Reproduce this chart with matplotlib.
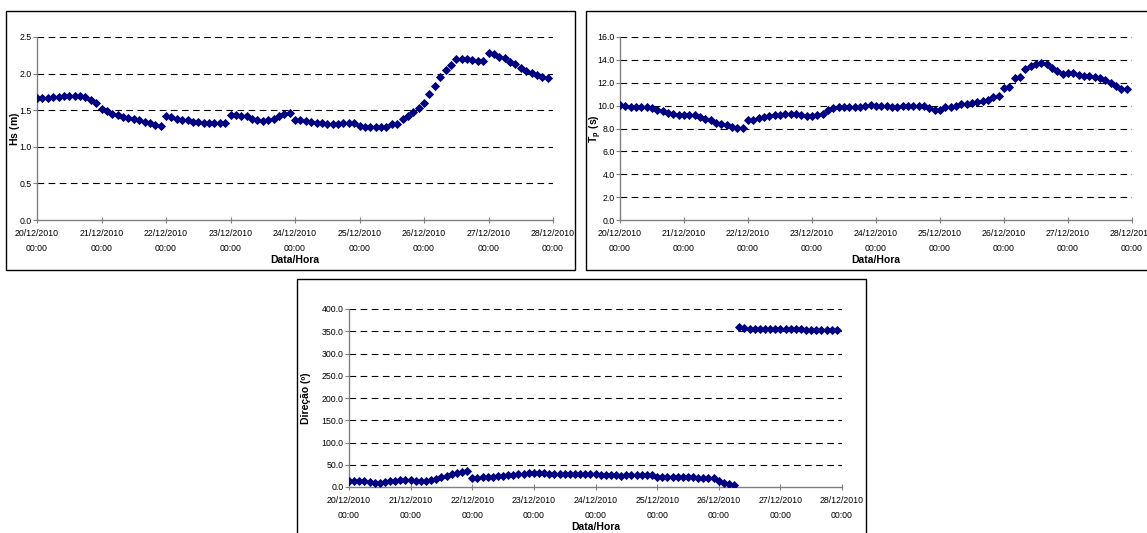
import numpy as np
import pandas as pd
import matplotlib
matplotlib.use("Agg")
import matplotlib.pyplot as plt
import matplotlib.patches as pat

plt.rcParams['font.family'] = ['Liberation Sans', 'DejaVu Sans']
plt.rcParams['mathtext.fontset'] = 'custom'
plt.rcParams['mathtext.bf'] = 'Liberation Sans:bold'
plt.rcParams['mathtext.rm'] = 'Liberation Sans'

# 2-hourly values, 20/12/2010 00:00 .. 27/12/2010 22:00
hs = [1.67, 1.67, 1.67, 1.68, 1.68, 1.69, 1.69, 1.70, 1.69, 1.68, 1.64, 1.60,
      1.51, 1.49, 1.45, 1.43, 1.41, 1.39, 1.38, 1.36, 1.34, 1.32, 1.30, 1.28,
      1.42, 1.41, 1.38, 1.37, 1.36, 1.34, 1.34, 1.33, 1.33, 1.33, 1.33, 1.32,
      1.43, 1.43, 1.42, 1.42, 1.38, 1.37, 1.35, 1.36, 1.38, 1.42, 1.45, 1.46,
      1.37, 1.36, 1.35, 1.34, 1.33, 1.32, 1.31, 1.31, 1.31, 1.32, 1.33, 1.32,
      1.28, 1.27, 1.27, 1.27, 1.27, 1.27, 1.31, 1.31, 1.38, 1.42, 1.47, 1.53,
      1.60, 1.72, 1.83, 1.95, 2.05, 2.12, 2.20, 2.20, 2.20, 2.18, 2.17, 2.17,
      2.28, 2.27, 2.22, 2.21, 2.16, 2.13, 2.07, 2.03, 2.01, 1.98, 1.95, 1.94]

tp = [10.05, 10.0, 9.9, 9.9, 9.85, 9.85, 9.8, 9.6, 9.5, 9.35, 9.25, 9.2,
      9.2, 9.2, 9.15, 9.0, 8.8, 8.75, 8.5, 8.4, 8.3, 8.15, 8.05, 8.05,
      8.7, 8.75, 8.9, 9.0, 9.1, 9.15, 9.2, 9.25, 9.25, 9.25, 9.2, 9.05,
      9.1, 9.2, 9.3, 9.6, 9.8, 9.85, 9.85, 9.85, 9.85, 9.85, 9.95, 10.05,
      10.0, 10.0, 9.95, 9.9, 9.9, 9.95, 10.0, 10.0, 10.0, 9.95, 9.8, 9.6,
      9.6, 9.85, 9.9, 9.95, 10.1, 10.1, 10.25, 10.3, 10.4, 10.5, 10.75, 10.8,
      11.5, 11.6, 12.4, 12.5, 13.2, 13.5, 13.6, 13.7, 13.6, 13.3, 13.0, 12.8,
      12.85, 12.85, 12.7, 12.6, 12.55, 12.5, 12.4, 12.2, 11.95, 11.7, 11.45, 11.45]

dirs = [14, 14, 14, 13, 11, 9, 10, 12, 13, 14, 15, 15,
        15, 14, 14, 14, 15, 18, 22, 25, 29, 32, 34, 35,
        21, 21, 22, 22, 23, 24, 25, 26, 28, 29, 30, 31,
        32, 32, 31, 30, 30, 30, 30, 30, 30, 30, 29, 29,
        29, 28, 27, 27, 26, 25, 27, 28, 28, 28, 27, 26,
        23, 22, 22, 22, 22, 22, 22, 22, 21, 21, 21, 20,
        13, 10, 6, 5, 360, 357, 356, 355, 355, 354, 355, 355,
        356, 355, 355, 354, 354, 353, 352, 352, 353, 353, 353, 353]

times = pd.date_range("2010-12-20 00:00", periods=len(hs), freq="2h")
day_ticks = pd.date_range("2010-12-20", "2010-12-28", freq="D")
xlabels = [d.strftime("%d/%m/%Y") + "\n00:00" for d in day_ticks]

W, H = 1147, 533
fig = plt.figure(figsize=(W / 100, H / 100), dpi=100)

def px(l, t, r, b):
    return [l / W, (H - b) / H, (r - l) / W, (b - t) / H]

# panel borders
for (l, t, r, b) in [(6, 11, 575, 270), (586, 11, 1150, 270), (297, 279, 866, 540)]:
    fig.add_artist(pat.Rectangle((l / W, (H - b) / H), (r - l) / W, (b - t) / H,
                                 transform=fig.transFigure, fill=False,
                                 edgecolor='black', linewidth=1.0))

panels = [
    (px(37, 37, 553, 220), hs, 2.5, 0.5, r'$\mathbf{Hs\ (m)}$', 15),
    (px(620, 37, 1132, 220), tp, 16.0, 2.0, r'$\mathbf{T_p\ (s)}$', 596),
    (px(349, 309, 842, 487), dirs, 400.0, 50.0, 'Direção (º)', 306),
]

for rect, vals, ymax, step, ylab, ylx in panels:
    ax = fig.add_axes(rect)
    ax.plot(times, vals, linestyle='none', marker='D', markersize=3.6,
            color='#000080', markeredgewidth=0.6, zorder=3)
    ax.set_xlim(day_ticks[0], day_ticks[-1])
    ax.set_ylim(0, ymax)
    yt = np.arange(0, ymax + step / 2, step)
    ax.set_yticks(yt)
    ax.set_yticklabels(['%.1f' % v for v in yt], fontsize=6.3)
    for v in yt[1:]:
        ax.axhline(v, color='black', linestyle=(0, (6, 4)), linewidth=0.8, zorder=1)
    ax.set_xticks(day_ticks)
    ax.set_xticklabels(xlabels, fontsize=6.3, linespacing=1.9)
    for s in ['top', 'right']:
        ax.spines[s].set_visible(False)
    for s in ['left', 'bottom']:
        ax.spines[s].set_color('#808080')
        ax.spines[s].set_linewidth(1.0)
    ax.tick_params(axis='y', direction='out', length=3, color='#808080', pad=1)
    ax.tick_params(axis='x', direction='inout', length=5, color='#808080', pad=4)
    ax.set_xlabel('Data/Hora', fontsize=7.5, fontweight='bold', labelpad=1)
    ax.set_ylabel(ylab, fontsize=7.5, fontweight='bold', va='center')
    ax.yaxis.set_label_coords((ylx - rect[0] * W) / (rect[2] * W), 0.5)

fig.savefig('out.png', dpi=100)
